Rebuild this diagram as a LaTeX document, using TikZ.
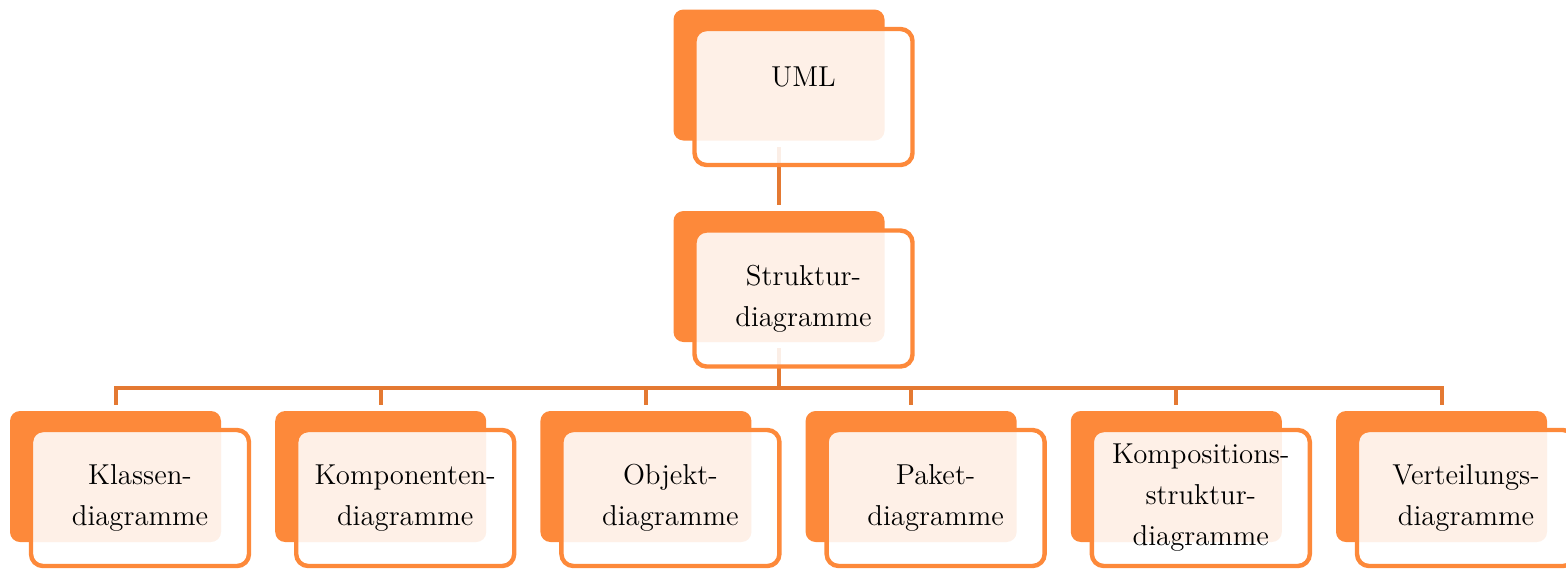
\documentclass[tikz,border=0pt]{standalone}
\usetikzlibrary{calc}
\pgfdeclarelayer{bg}
\pgfsetlayers{bg,main}
\definecolor{boxorange}{RGB}{253,137,58}
\definecolor{linkorange}{RGB}{228,121,50}
\tikzset{
  backbox/.style={fill=boxorange, draw=none, rounded corners=5pt,
    minimum width=105.5pt, minimum height=65.5pt, inner sep=0pt},
  frontbox/.style={fill=white, fill opacity=0.88, text opacity=1,
    draw=boxorange, line width=2.2pt, rounded corners=6pt,
    minimum width=109pt, minimum height=68pt, inner sep=0pt,
    align=center, font=\fontsize{14.4}{20.5}\selectfont},
  link/.style={draw=linkorange, line width=2pt, shorten <=3pt, shorten >=3pt},
}
\begin{document}
\begin{tikzpicture}[x=0.5pt,y=-0.5pt]
\useasboundingbox (0,0) rectangle (1566,569);

% root and second level
\node[backbox] (umlB) at (779,75) {};
\node[frontbox] (umlF) at ($(umlB)+(24.5,22)$) {UML\\\mbox{}};
\node[backbox] (strB) at (779,276.5) {};
\node[frontbox] (strF) at ($(strB)+(24.5,22)$) {Struktur-\\diagramme};

% leaf row
\node[backbox] (c1B) at (115.5,476.5) {};
\node[frontbox] (c1F) at ($(c1B)+(24.5,21.5)$) {Klassen-\\diagramme};
\node[backbox] (c2B) at (380.7,476.5) {};
\node[frontbox] (c2F) at ($(c2B)+(24.5,21.5)$) {Komponenten-\\diagramme};
\node[backbox] (c3B) at (645.9,476.5) {};
\node[frontbox] (c3F) at ($(c3B)+(24.5,21.5)$) {Objekt-\\diagramme};
\node[backbox] (c4B) at (911.1,476.5) {};
\node[frontbox] (c4F) at ($(c4B)+(24.5,21.5)$) {Paket-\\diagramme};
\node[backbox] (c5B) at (1176.3,476.5) {};
\node[frontbox] (c5F) at ($(c5B)+(24.5,21.5)$) {Kompositions-\\struktur-\\diagramme};
\node[backbox] (c6B) at (1441.5,476.5) {};
\node[frontbox] (c6F) at ($(c6B)+(24.5,21.5)$) {Verteilungs-\\diagramme};

% connectors, kept underneath the boxes
\coordinate (bus) at (0,388);
\begin{pgfonlayer}{bg}
  \draw[link] (umlB.south) -- (strB.north);
  \foreach \c in {c1,c2,c3,c4,c5,c6}
    \draw[link] (strB.south) -- (strB.south |- bus) -| (\c B.north);
\end{pgfonlayer}
\end{tikzpicture}
\end{document}
